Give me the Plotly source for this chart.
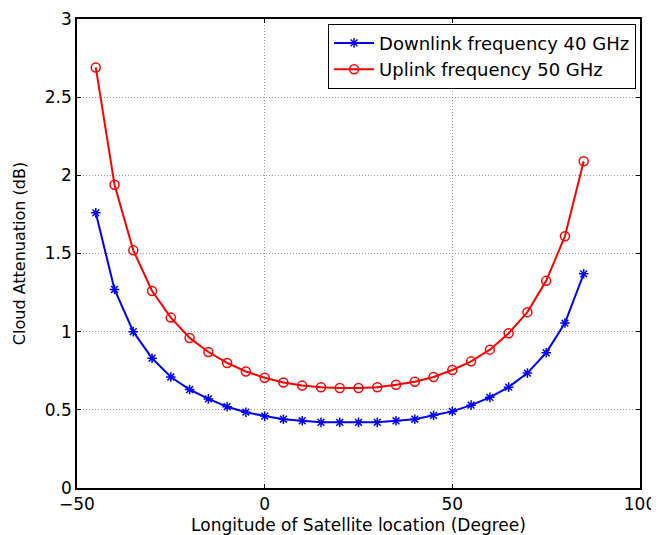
import plotly.graph_objects as go

# data
longitude = [-45, -40, -35, -30, -25, -20, -15, -10, -5, 0, 5, 10, 15, 20, 25,
             30, 35, 40, 45, 50, 55, 60, 65, 70, 75, 80, 85]
downlink_40 = [1.76, 1.27, 1.00, 0.83, 0.71, 0.63, 0.57, 0.52, 0.485, 0.46, 0.44,
               0.43, 0.42, 0.42, 0.42, 0.42, 0.43, 0.44, 0.465, 0.49, 0.53, 0.58,
               0.645, 0.735, 0.865, 1.055, 1.37]
uplink_50 = [2.69, 1.94, 1.52, 1.26, 1.09, 0.96, 0.87, 0.80, 0.745, 0.705, 0.675,
             0.655, 0.645, 0.64, 0.64, 0.645, 0.66, 0.68, 0.71, 0.755, 0.81, 0.885,
             0.99, 1.125, 1.325, 1.61, 2.09]

fig = go.Figure()
fig.add_trace(go.Scatter(x=longitude, y=downlink_40, mode='lines+markers',
                         name='Downlink frequency 40 GHz',
                         line=dict(color='#0000ff', width=2),
                         marker=dict(symbol='asterisk-open', size=8,
                                     line=dict(color='#0000ff', width=1.5))))
fig.add_trace(go.Scatter(x=longitude, y=uplink_50, mode='lines+markers',
                         name='Uplink frequency 50 GHz',
                         line=dict(color='#ff0000', width=2),
                         marker=dict(symbol='circle-open', size=9,
                                     line=dict(color='#ff0000', width=1.5))))

axis_common = dict(showline=True, linecolor='black', linewidth=1.5, mirror='ticks',
                   ticks='inside', ticklen=4, tickcolor='black', automargin=False,
                   showgrid=True, gridcolor='#999999', griddash='1px,2px', gridwidth=1,
                   zeroline=False, tickfont=dict(size=17, color='black'))

fig.update_xaxes(range=[-50, 100], tickvals=[-50, 0, 50, 100],
                 title=dict(text='Longitude of Satellite location (Degree)',
                            font=dict(size=17, color='black')),
                 **axis_common)
fig.update_yaxes(range=[0, 3], tickvals=[0, 0.5, 1, 1.5, 2, 2.5, 3],
                 ticktext=['0', '0.5', '1', '1.5', '2', '2.5', '3'],
                 title=dict(text='Cloud Attenuation (dB)',
                            font=dict(size=16, color='black')),
                 **axis_common)

# page body has an 8px margin, so the figure is drawn 8px smaller
fig.update_layout(width=651, height=527,
                  margin=dict(l=69, r=19, t=11, b=47),
                  plot_bgcolor='white', paper_bgcolor='white',
                  font=dict(family='DejaVu Sans, Arial, sans-serif', color='black'),
                  legend=dict(x=0.993, y=0.99, xanchor='right', yanchor='top',
                              bordercolor='black', borderwidth=1, bgcolor='white',
                              font=dict(size=18), tracegroupgap=0,
                              itemwidth=40))

fig.write_html("out.html")
